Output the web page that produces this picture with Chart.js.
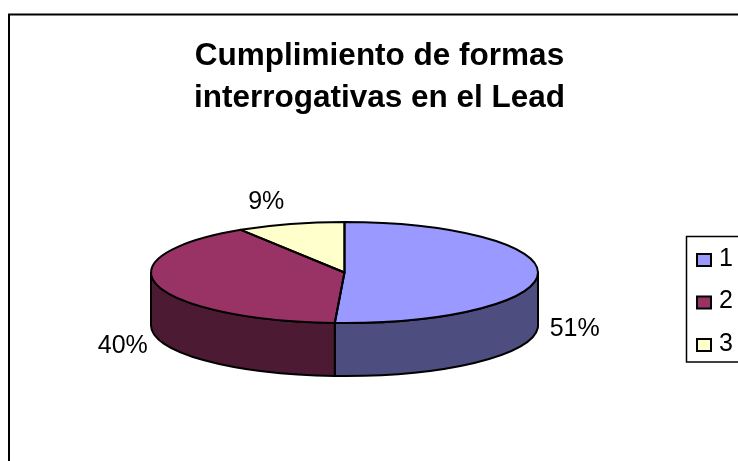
<!DOCTYPE html>
<html>
<head>
<meta charset="utf-8">
<style>
    html, body { margin: 0; padding: 0; background: #fff; }
    #wrap { width: 738px; height: 461px; }
</style>
<script src="https://cdn.jsdelivr.net/npm/chart.js@4/dist/chart.umd.min.js"></script>
</head>
<body>
<div id="wrap"><canvas id="pieChart"></canvas></div>
<script>
const titleLines = ['Cumplimiento de formas', 'interrogativas en el Lead'];
const categories = ['1', '2', '3'];
const shares = [50.8, 40.2, 9];
const topColors = ['#9999ff', '#993366', '#ffffcc'];
const sideColors = ['#4d4d80', '#4d1a33', '#808066'];

const FONT = '"Liberation Sans", Arial, sans-serif';
const TILT = 50.5 / 193.5;   // ellipse height / width of the pie top
const DEPTH = 53;
const EDGE = 2;
// label placement, on top of the radial position
const LABEL_REACH = 1.19;
const labelNudge = [[0, 2], [1, 5], [-14, -13]];

function tiltPath(ctx, cx, cy, fn) {
    ctx.save();
    ctx.translate(cx, cy);
    ctx.scale(1, TILT);
    fn();
    ctx.restore();
}

const pie3d = {
    id: 'pie3d',
    beforeDraw(chart) {
        // outer frame, runs off the right and bottom of the picture
        const ctx = chart.ctx;
        ctx.save();
        ctx.strokeStyle = '#000';
        ctx.lineWidth = 2;
        ctx.beginPath();
        ctx.moveTo(9, 461);
        ctx.lineTo(9, 14.5);
        ctx.lineTo(738, 14.5);
        ctx.stroke();

        // title sits off the pie's centre in the original
        ctx.fillStyle = '#000';
        ctx.font = 'bold 31.5px ' + FONT;
        ctx.textAlign = 'center';
        ctx.textBaseline = 'alphabetic';
        titleLines.forEach((line, i) => ctx.fillText(line, 379.5, 64.5 + i * 42));
        ctx.restore();
    },
    beforeDatasetsDraw(chart) {
        const ctx = chart.ctx;
        const arcs = chart.getDatasetMeta(0).data;

        // front wall of the disc
        arcs.forEach((arc, i) => {
            const s = Math.max(arc.startAngle, 0);
            const e = Math.min(arc.endAngle, Math.PI);
            if (s >= e) return;
            const r = arc.outerRadius;
            ctx.save();
            ctx.beginPath();
            tiltPath(ctx, arc.x, arc.y, () => ctx.arc(0, 0, r, s, e));
            tiltPath(ctx, arc.x, arc.y + DEPTH, () => ctx.arc(0, 0, r, e, s, true));
            ctx.closePath();
            ctx.fillStyle = sideColors[i];
            ctx.fill();
            ctx.strokeStyle = '#000';
            ctx.lineWidth = EDGE;
            ctx.lineJoin = 'round';
            ctx.stroke();
            ctx.restore();
        });

        const first = arcs[0];
        ctx.save();
        ctx.translate(first.x, first.y);
        ctx.scale(1, TILT);
        ctx.translate(-first.x, -first.y);
    },
    afterDatasetsDraw(chart) {
        const ctx = chart.ctx;
        ctx.restore();

        const arcs = chart.getDatasetMeta(0).data;
        arcs.forEach((arc, i) => {
            // outlines after the tilt, so the pen keeps its width
            ctx.save();
            ctx.beginPath();
            tiltPath(ctx, arc.x, arc.y, () => {
                ctx.moveTo(0, 0);
                ctx.arc(0, 0, arc.outerRadius, arc.startAngle, arc.endAngle);
                ctx.closePath();
            });
            ctx.strokeStyle = '#000';
            ctx.lineWidth = EDGE;
            ctx.lineJoin = 'round';
            ctx.stroke();
            ctx.restore();

            // percent labels
            const mid = (arc.startAngle + arc.endAngle) / 2;
            const r = arc.outerRadius * LABEL_REACH;
            let x = arc.x + Math.cos(mid) * r + labelNudge[i][0];
            let y = arc.y + Math.sin(mid) * r * TILT + labelNudge[i][1];
            if (Math.sin(mid) > 0 || Math.abs(Math.sin(mid)) < 0.1) y += DEPTH;
            ctx.save();
            ctx.fillStyle = '#000';
            ctx.font = '25px ' + FONT;
            ctx.textAlign = 'center';
            ctx.textBaseline = 'middle';
            ctx.fillText(Math.round(shares[i]) + '%', x, y);
            ctx.restore();
        });

        // legend box, its right side falls outside the picture
        ctx.save();
        ctx.strokeStyle = '#000';
        ctx.lineWidth = 1.5;
        ctx.beginPath();
        ctx.moveTo(738, 236.5);
        ctx.lineTo(686.5, 236.5);
        ctx.lineTo(686.5, 362);
        ctx.lineTo(738, 362);
        ctx.stroke();
        categories.forEach((name, i) => {
            const y = 260 + i * 42.5;
            ctx.fillStyle = topColors[i];
            ctx.fillRect(697, y - 6, 14, 12);
            ctx.lineWidth = 2;
            ctx.strokeRect(697, y - 6, 14, 12);
            ctx.fillStyle = '#000';
            ctx.font = '25px ' + FONT;
            ctx.textAlign = 'left';
            ctx.textBaseline = 'middle';
            ctx.fillText(name, 719, y - 1);
        });
        ctx.restore();
    }
};

new Chart(document.getElementById('pieChart'), {
    type: 'pie',
    data: {
        labels: categories,
        datasets: [{
            data: shares,
            backgroundColor: topColors,
            borderWidth: 0,
            radius: 193.5
        }]
    },
    options: {
        responsive: true,
        maintainAspectRatio: false,
        animation: false,
        events: [],
        layout: { padding: { left: 0, right: 49, top: 130, bottom: 46 } },
        plugins: {
            legend: { display: false },
            tooltip: { enabled: false },
            title: { display: false }
        }
    },
    plugins: [pie3d]
});
</script>
</body>
</html>
